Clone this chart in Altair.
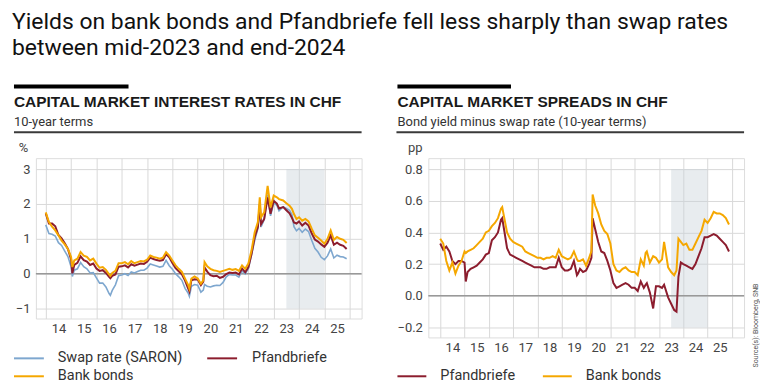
import altair as alt
import pandas as pd

# ---------------- data ----------------
T = [2014.0, 2014.125, 2014.25, 2014.375, 2014.5, 2014.625, 2014.75, 2014.875,
     2015.0, 2015.05, 2015.125, 2015.25, 2015.375, 2015.5, 2015.625, 2015.75, 2015.875,
     2016.0, 2016.125, 2016.25, 2016.375, 2016.5, 2016.55, 2016.625, 2016.75, 2016.875,
     2017.0, 2017.125, 2017.25, 2017.375, 2017.5, 2017.625, 2017.75, 2017.875,
     2018.0, 2018.125, 2018.25, 2018.375, 2018.5, 2018.625, 2018.75, 2018.875,
     2019.0, 2019.125, 2019.25, 2019.375, 2019.5, 2019.625, 2019.67, 2019.75, 2019.875,
     2020.0, 2020.125, 2020.22, 2020.27, 2020.375, 2020.5, 2020.625, 2020.75, 2020.875,
     2021.0, 2021.125, 2021.25, 2021.375, 2021.5, 2021.625, 2021.75, 2021.875,
     2022.0, 2022.125, 2022.25, 2022.375, 2022.45, 2022.5, 2022.625, 2022.76, 2022.875,
     2023.0, 2023.125, 2023.21, 2023.375, 2023.5, 2023.625, 2023.72, 2023.8, 2023.9,
     2024.0, 2024.125, 2024.25, 2024.375, 2024.5, 2024.625, 2024.75, 2024.875,
     2025.0, 2025.125, 2025.25, 2025.375, 2025.5, 2025.625, 2025.75, 2025.88]

bank_bonds = [1.76, 1.48, 1.35, 1.24, 1.10, 0.95, 0.84, 0.71,
              0.48, 0.19, 0.38, 0.43, 0.62, 0.52, 0.48, 0.38, 0.43,
              0.29, 0.17, 0.19, 0.11, -0.02, -0.06, 0.02, 0.08, 0.30,
              0.30, 0.33, 0.27, 0.36, 0.30, 0.33, 0.36, 0.35,
              0.40, 0.52, 0.48, 0.46, 0.43, 0.46, 0.62, 0.52,
              0.38, 0.24, 0.14, 0.05, -0.14, -0.33, -0.43, -0.14, -0.08,
              -0.14, -0.29, -0.19, 0.33, 0.21, 0.14, 0.10, 0.08, 0.05,
              0.08, 0.11, 0.14, 0.11, 0.13, 0.08, 0.24, 0.14,
              0.29, 0.67, 1.19, 1.48, 2.19, 1.62, 1.76, 2.52, 1.90,
              2.24, 2.19, 2.14, 2.10, 2.02, 1.95, 1.86, 1.71, 1.57,
              1.62, 1.52, 1.57, 1.50, 1.29, 1.10, 1.03, 0.95,
              0.86, 1.00, 1.24, 0.97, 1.05, 1.00, 0.97, 0.88]

swap_rate = [1.40, 1.15, 1.13, 1.08, 0.89, 0.81, 0.65, 0.49,
             0.20, -0.08, 0.10, 0.14, 0.32, 0.20, 0.14, 0.02, 0.03,
             -0.12, -0.27, -0.27, -0.38, -0.57, -0.62, -0.48, -0.32, -0.06,
             -0.04, 0.00, -0.05, 0.05, 0.02, 0.06, 0.10, 0.10,
             0.16, 0.28, 0.25, 0.22, 0.19, 0.21, 0.38, 0.23,
             0.13, 0.00, -0.09, -0.19, -0.42, -0.56, -0.65, -0.36, -0.31,
             -0.33, -0.53, -0.47, -0.31, -0.36, -0.38, -0.35, -0.33, -0.34,
             -0.25, -0.09, -0.02, -0.04, -0.04, -0.10, 0.08, -0.01,
             0.14, 0.54, 0.96, 1.29, 1.92, 1.34, 1.55, 2.27, 1.66,
             2.03, 1.96, 1.80, 1.92, 1.87, 1.82, 1.70, 1.35, 1.23,
             1.30, 1.19, 1.28, 1.21, 0.96, 0.73, 0.62, 0.47,
             0.40, 0.51, 0.71, 0.45, 0.53, 0.49, 0.48, 0.43]

pfandbriefe = [1.73, 1.44, 1.44, 1.36, 1.11, 1.01, 0.87, 0.71,
               0.41, 0.01, 0.25, 0.31, 0.50, 0.39, 0.35, 0.25, 0.29,
               0.15, 0.08, 0.10, 0.02, -0.09, -0.13, -0.06, -0.02, 0.20,
               0.21, 0.24, 0.18, 0.27, 0.23, 0.26, 0.29, 0.28,
               0.34, 0.46, 0.42, 0.39, 0.37, 0.39, 0.56, 0.47,
               0.31, 0.16, 0.07, -0.02, -0.20, -0.43, -0.51, -0.19, -0.16,
               -0.17, -0.33, -0.23, 0.18, 0.06, -0.04, -0.07, -0.06, -0.12,
               -0.09, -0.01, 0.03, 0.02, 0.03, -0.02, 0.15, 0.04,
               0.19, 0.57, 1.05, 1.34, 1.99, 1.42, 1.57, 2.19, 1.72,
               2.09, 2.01, 1.87, 1.91, 1.82, 1.73, 1.60, 1.47, 1.44,
               1.50, 1.38, 1.46, 1.38, 1.16, 0.98, 0.92, 0.84,
               0.77, 0.89, 1.10, 0.83, 0.89, 0.83, 0.80, 0.71]

spread_bank = [0.36, 0.33, 0.22, 0.16, 0.21, 0.14, 0.19, 0.22,
               0.28, 0.27, 0.28, 0.29, 0.30, 0.32, 0.34, 0.36, 0.40,
               0.41, 0.44, 0.46, 0.49, 0.55, 0.56, 0.50, 0.40, 0.36,
               0.34, 0.33, 0.32, 0.31, 0.28, 0.27, 0.26, 0.25,
               0.24, 0.24, 0.23, 0.24, 0.24, 0.25, 0.24, 0.29,
               0.25, 0.24, 0.23, 0.24, 0.28, 0.23, 0.22, 0.22, 0.23,
               0.19, 0.24, 0.28, 0.64, 0.57, 0.52, 0.45, 0.41, 0.39,
               0.33, 0.20, 0.16, 0.15, 0.17, 0.18, 0.16, 0.15,
               0.15, 0.13, 0.23, 0.19, 0.27, 0.28, 0.21, 0.25, 0.24,
               0.21, 0.23, 0.34, 0.18, 0.15, 0.13, 0.16, 0.36, 0.34,
               0.32, 0.33, 0.29, 0.29, 0.33, 0.37, 0.41, 0.48,
               0.46, 0.49, 0.53, 0.52, 0.52, 0.51, 0.49, 0.45]

spread_pfand = [0.33, 0.29, 0.31, 0.28, 0.22, 0.20, 0.22, 0.22,
                0.21, 0.09, 0.15, 0.17, 0.18, 0.19, 0.21, 0.23, 0.26,
                0.27, 0.35, 0.37, 0.40, 0.48, 0.49, 0.42, 0.30, 0.26,
                0.25, 0.24, 0.23, 0.22, 0.21, 0.20, 0.19, 0.18,
                0.18, 0.18, 0.17, 0.17, 0.18, 0.18, 0.18, 0.24,
                0.18, 0.16, 0.16, 0.17, 0.22, 0.13, 0.14, 0.17, 0.15,
                0.16, 0.20, 0.24, 0.49, 0.42, 0.34, 0.28, 0.27, 0.22,
                0.16, 0.08, 0.05, 0.06, 0.07, 0.08, 0.07, 0.05,
                0.05, 0.03, 0.09, 0.05, 0.07, 0.08, 0.02, -0.08, 0.06,
                0.06, 0.05, 0.07, -0.01, -0.05, -0.09, -0.10, 0.12, 0.21,
                0.20, 0.19, 0.18, 0.17, 0.20, 0.25, 0.30, 0.37,
                0.37, 0.38, 0.39, 0.38, 0.36, 0.34, 0.32, 0.28]

shade_period = [2023.5, 2025.0]
years = list(range(2014, 2027))
left_ticks = [-1, 0, 1, 2, 3]
right_ticks = [-0.2, 0.0, 0.2, 0.4, 0.6, 0.8]

TITLE = ["Yields on bank bonds and Pfandbriefe fell less sharply than swap rates",
         "between mid-2023 and end-2024"]
LEFT_HEAD = "CAPITAL MARKET INTEREST RATES IN CHF"
LEFT_SUB = "10-year terms"
RIGHT_HEAD = "CAPITAL MARKET SPREADS IN CHF"
RIGHT_SUB = "Bond yield minus swap rate (10-year terms)"
SOURCE = "Source(s): Bloomberg, SNB"

# ---------------- styling ----------------
FONT = "Roboto"
HEAD_FONT = "Liberation Sans"
BLUE = "#7EA7CF"
RED = "#8C1D2E"
ORANGE = "#F5A700"
GRID = "#d9d9d9"
LABEL = "#444444"
TEXT = "#222222"

LW, LH = 327, 161   # left plot area
RW, RH = 317, 180   # right plot area

df_rates = pd.DataFrame({"t": T, "swap": swap_rate, "pfand": pfandbriefe, "bank": bank_bonds})
df_spreads = pd.DataFrame({"t": T, "pfand": spread_pfand, "bank": spread_bank})


def x_axis(half_year_px):
    return alt.Axis(values=years, grid=True, gridColor=GRID, gridWidth=1,
                    domain=False, ticks=False, labelFlush=False, labelOverlap=False,
                    labelExpr="datum.value >= 2026 ? '' : substring(toString(datum.value), 2, 4)",
                    labelOffset=half_year_px, labelPadding=4, labelFontSize=13,
                    labelColor=LABEL, labelFont=FONT, title=None)


def y_axis(ticks, fmt):
    return alt.Axis(values=ticks, format=fmt, grid=True, gridColor=GRID, gridWidth=1,
                    domain=False, ticks=False, labelPadding=6, labelFontSize=13,
                    labelColor=LABEL, labelFont=FONT, title=None, labelFlush=False)


def text(label, x, y, size, color=TEXT, weight="normal", align="left", baseline="alphabetic",
         angle=0, font=FONT):
    return alt.Chart(pd.DataFrame({"label": [label]})).mark_text(
        font=font, fontSize=size, color=color, fontWeight=weight, align=align,
        baseline=baseline, angle=angle).encode(x=alt.value(x), y=alt.value(y), text="label:N")


def rule(x1, x2, y, color, width):
    return alt.Chart(pd.DataFrame({"a": [0]})).mark_rule(color=color, strokeWidth=width).encode(
        x=alt.value(x1), x2=alt.value(x2), y=alt.value(y), y2=alt.value(y))


def panel(df, xdom, ydom, ticks, fmt, half, series, shade_y):
    xs = alt.Scale(domain=xdom, nice=False, zero=False)
    ys = alt.Scale(domain=ydom, nice=False, zero=False)
    xa = x_axis(half)
    ya = y_axis(ticks, fmt)
    shade = alt.Chart(pd.DataFrame({"x0": [shade_period[0]], "x1": [shade_period[1]],
                                    "y0": [shade_y[0]], "y1": [shade_y[1]]})).mark_rect(
        color="#C6D0D8", opacity=0.4).encode(
        x=alt.X("x0:Q", scale=xs, axis=xa), x2="x1:Q",
        y=alt.Y("y0:Q", scale=ys, axis=ya), y2="y1:Q")
    zero = alt.Chart(pd.DataFrame({"z": [0.0]})).mark_rule(color="#999999", strokeWidth=1.5).encode(
        y=alt.Y("z:Q", scale=ys, axis=ya))
    lines = []
    for field, color, width in series:
        lines.append(alt.Chart(df).mark_line(color=color, strokeWidth=width).encode(
            x=alt.X("t:Q", scale=xs, axis=xa),
            y=alt.Y(field + ":Q", scale=ys, axis=ya)))
    return [shade, zero] + lines


# ---------------- left panel (origin at page x=35, y=157) ----------------
left_layers = panel(df_rates, [2013.61, 2026.47], [-1.286, 3.314], left_ticks, "d", 12.7,
                    [("swap", BLUE, 1.6), ("pfand", RED, 2.0), ("bank", ORANGE, 2.0)], [-1, 3])
left_deco = [
    rule(-26.5, -20, -148.5, "#ffffff", 1),   # anchors the page origin
    text(TITLE[0], -24, -129.5, 23, color="#111111"),
    text(TITLE[1], -24, -103.5, 23, color="#111111"),
    rule(-22, 93, -72, "#000000", 4),
    text(LEFT_HEAD, -22, -51, 15.5, weight="bold", color="#1a1a1a", font=HEAD_FONT),
    text(LEFT_SUB, -22, -32, 13, color="#333333"),
    rule(-22, LW, -26, "#3a3a3a", 2),
    text("%", -12.5, -6, 13, color=LABEL, align="center"),
    rule(-22, 8, 201, BLUE, 2),
    text("Swap rate (SARON)", 22, 201, 14.5, color="#333333", baseline="middle"),
    rule(172, 202, 201, RED, 2),
    text("Pfandbriefe", 217, 201, 14.5, color="#333333", baseline="middle"),
    rule(-22, 8, 219, ORANGE, 2),
    text("Bank bonds", 22, 219, 14.5, color="#333333", baseline="middle"),
]
left = alt.layer(*left_layers, *left_deco).properties(width=LW, height=LH)

# ---------------- right panel (origin at page x=429, y=157) ----------------
right_layers = panel(df_spreads, [2013.51, 2026.5], [-0.263, 0.869], right_ticks, ".1f", 12.2,
                     [("pfand", RED, 2.0), ("bank", ORANGE, 2.0)], [-0.2, 0.8])
right_deco = [
    rule(-31, 83, -72, "#000000", 4),
    text(RIGHT_HEAD, -31, -51, 15.5, weight="bold", color="#1a1a1a", font=HEAD_FONT),
    text(RIGHT_SUB, -31, -32, 13, color="#333333"),
    rule(-32, RW, -26, "#3a3a3a", 2),
    text("pp", -13, -6, 13, color=LABEL, align="center"),
    rule(-31, -2, 219, RED, 2),
    text("Pfandbriefe", 12, 219, 14.5, color="#333333", baseline="middle"),
    rule(115, 144, 219, ORANGE, 2),
    text("Bank bonds", 158, 219, 14.5, color="#333333", baseline="middle"),
    text(SOURCE, 329, 168, 7, color="#555555", align="center", baseline="middle", angle=270),
]
right = alt.layer(*right_layers, *right_deco).properties(width=RW, height=RH)

chart = alt.hconcat(left, right, spacing=67, bounds="flush", padding=0).configure_view(
    stroke=None).configure(background="white")

chart.save("out.html", embed_options={"renderer": "svg", "actions": False})
